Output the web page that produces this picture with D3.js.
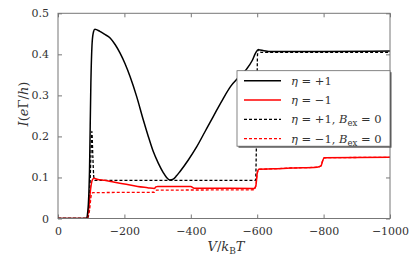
<!DOCTYPE html>
<html>
<head>
<meta charset="utf-8">
<script src="https://cdn.jsdelivr.net/npm/d3@7"></script>
<style>
    body { margin: 0; background: #fff; }
    svg text { font-family: 'DejaVu Serif', serif; fill: #333; }
</style>
</head>
<body>
<div id="chart"></div>
<script>
// Datos: [V/kBT, I]
let etaPlus = [[0,0],[-85,0],[-90,0.02],[-95,0.12],[-99,0.33],[-103,0.43],[-107,0.455],[-111,0.461],[-126,0.456],[-140,0.449],[-157,0.440],[-172,0.424],[-187,0.403],[-202,0.377],[-217,0.346],[-237,0.297],[-257,0.240],[-272,0.200],[-287,0.163],[-302,0.135],[-317,0.112],[-327,0.100],[-337,0.094],[-347,0.096],[-357,0.104],[-367,0.114],[-392,0.142],[-418,0.175],[-443,0.212],[-458,0.234],[-478,0.264],[-498,0.293],[-520,0.322],[-545,0.345],[-568,0.364],[-585,0.385],[-595,0.403],[-603,0.411],[-620,0.409],[-640,0.407],[-800,0.407],[-1000,0.408]];
let etaMinus = [[0,0],[-86,0],[-92,0.02],[-98,0.07],[-103,0.093],[-108,0.098],[-120,0.095],[-140,0.093],[-167,0.089],[-200,0.084],[-240,0.078],[-270,0.075],[-290,0.073],[-295,0.077],[-300,0.078],[-350,0.078],[-400,0.078],[-410,0.074],[-450,0.074],[-590,0.073],[-596,0.08],[-600,0.11],[-605,0.12],[-650,0.121],[-700,0.123],[-780,0.125],[-792,0.128],[-797,0.14],[-802,0.148],[-1000,0.149]];
let etaPlusB0 = [[0,0],[-88,0],[-95,0.05],[-99,0.15],[-102,0.212],[-105,0.15],[-108,0.1],[-112,0.093],[-300,0.093],[-595,0.093],[-598,0.2],[-601,0.4],[-604,0.412],[-612,0.405],[-1000,0.405]];
let etaMinusB0 = [[0,0],[-88,0],[-95,0.02],[-100,0.055],[-105,0.063],[-290,0.064],[-293,0.068],[-297,0.069],[-590,0.070],[-596,0.08],[-600,0.11],[-605,0.12],[-650,0.121],[-700,0.123],[-780,0.125],[-792,0.128],[-797,0.14],[-802,0.148],[-1000,0.149]];

let xTicks = [0, -200, -400, -600, -800, -1000];
let yTicks = [0, 0.1, 0.2, 0.3, 0.4, 0.5];

let series = [
    {data: etaPlus, color: '#000', dash: null, label: ['+1', false]},
    {data: etaMinus, color: '#f00', dash: null, label: ['\u22121', false]},
    {data: etaPlusB0, color: '#000', dash: '3,2', label: ['+1', true]},
    {data: etaMinusB0, color: '#f00', dash: '3,2', label: ['\u22121', true]}
];

let margin = {top: 13.3, right: 25, bottom: 39.5, left: 58};
let W = 415, H = 258;
let width = W - margin.left - margin.right,
    height = H - margin.top - margin.bottom;

let svg = d3.select('#chart').append('svg')
    .attr('width', W).attr('height', H);

let chart = svg.append('g')
    .attr('transform', 'translate(' + margin.left + ',' + margin.top + ')');

let x_c = d3.scaleLinear().domain([0, -1000]).range([0, width]);
let y_c = d3.scaleLinear().domain([0, 0.5]).range([height, 0]);

let fmtX = function(d) { return d == 0 ? '0' : '\u2212' + Math.abs(d); };
let fmtY = function(d) { return d == 0 ? '0' : d3.format('.1f')(d); };

//Ejes con ticks hacia dentro en los cuatro lados
function styleAxis(g) {
    g.attr('font-family', null).attr('font-size', null);
    g.select('.domain').remove();
    g.selectAll('.tick line').attr('stroke', '#777');
}
chart.append('g').attr('transform', 'translate(0,' + height + ')')
    .call(d3.axisBottom(x_c).tickValues(xTicks).tickSize(-4).tickPadding(9).tickFormat(fmtX))
    .call(styleAxis);
chart.append('g')
    .call(d3.axisTop(x_c).tickValues(xTicks).tickSize(-4).tickFormat(''))
    .call(styleAxis);
chart.append('g')
    .call(d3.axisLeft(y_c).tickValues(yTicks).tickSize(-4).tickPadding(9).tickFormat(fmtY))
    .call(styleAxis);
chart.append('g').attr('transform', 'translate(' + width + ',0)')
    .call(d3.axisRight(y_c).tickValues(yTicks).tickSize(-4).tickFormat(''))
    .call(styleAxis);

chart.selectAll('.tick text')
    .style('font-size', '11px')
    .attr('fill', '#333');

let line = d3.line()
    .x(function(d) { return x_c(d[0]); })
    .y(function(d) { return y_c(d[1]); })
    .curve(d3.curveMonotoneX);

chart.append('clipPath').attr('id', 'clip')
    .append('rect').attr('width', width).attr('height', height + 1).attr('y', -1);

chart.append('g').attr('clip-path', 'url(#clip)')
    .selectAll('path').data(series.slice().reverse()).enter()
    .append('path')
    .attr('fill', 'none')
    .attr('stroke', function(d) { return d.color; })
    .attr('stroke-width', function(d) { return d.dash ? 1.3 : 1.5; })
    .attr('stroke-dasharray', function(d) { return d.dash; })
    .attr('d', function(d) { return line(d.data); });

//Marco
chart.append('rect')
    .attr('width', width).attr('height', height)
    .attr('fill', 'none').attr('stroke', '#777').attr('stroke-width', 1);

//Etiquetas de ejes
let xl = svg.append('text')
    .attr('x', margin.left + width / 2 + 2).attr('y', 251)
    .attr('text-anchor', 'middle').style('font-size', '13px');
xl.append('tspan').style('font-style', 'italic').text('V');
xl.append('tspan').text('/');
xl.append('tspan').style('font-style', 'italic').text('k');
xl.append('tspan').attr('dy', 3).style('font-size', '9px').text('B');
xl.append('tspan').attr('dy', -3).style('font-style', 'italic').text('T');

let yl = svg.append('text')
    .attr('transform', 'translate(28,104) rotate(-90)')
    .attr('text-anchor', 'middle').style('font-size', '13px');
yl.append('tspan').style('font-style', 'italic').text('I');
yl.append('tspan').text('(');
yl.append('tspan').style('font-style', 'italic').text('e');
yl.append('tspan').text('\u0393/');
yl.append('tspan').style('font-style', 'italic').text('h');
yl.append('tspan').text(')');

//Leyenda
let lg = svg.append('g').attr('transform', 'translate(237,70.7)');
lg.append('rect').attr('x', 1.5).attr('y', 1.5).attr('width', 153).attr('height', 75.5)
    .attr('fill', '#555');
lg.append('rect').attr('width', 153).attr('height', 75.5)
    .attr('fill', '#fff').attr('stroke', '#666').attr('stroke-width', 0.8);

series.forEach(function(s, i) {
    let yy = 10 + i * 19.3;
    lg.append('line').attr('x1', 7).attr('x2', 44).attr('y1', yy).attr('y2', yy)
        .attr('stroke', s.color).attr('stroke-width', s.dash ? 1.3 : 1.5)
        .attr('stroke-dasharray', s.dash);
    let t = lg.append('text').attr('x', 54).attr('y', yy + 4).style('font-size', '11.5px');
    t.append('tspan').style('font-style', 'italic').text('\u03b7');
    t.append('tspan').text(' = ' + s.label[0]);
    if (s.label[1]) {
        t.append('tspan').text(', ');
        t.append('tspan').style('font-style', 'italic').text('B');
        t.append('tspan').attr('dy', 3).style('font-size', '8.5px').text('ex');
        t.append('tspan').attr('dy', -3).text(' = 0');
    }
});
</script>
</body>
</html>
